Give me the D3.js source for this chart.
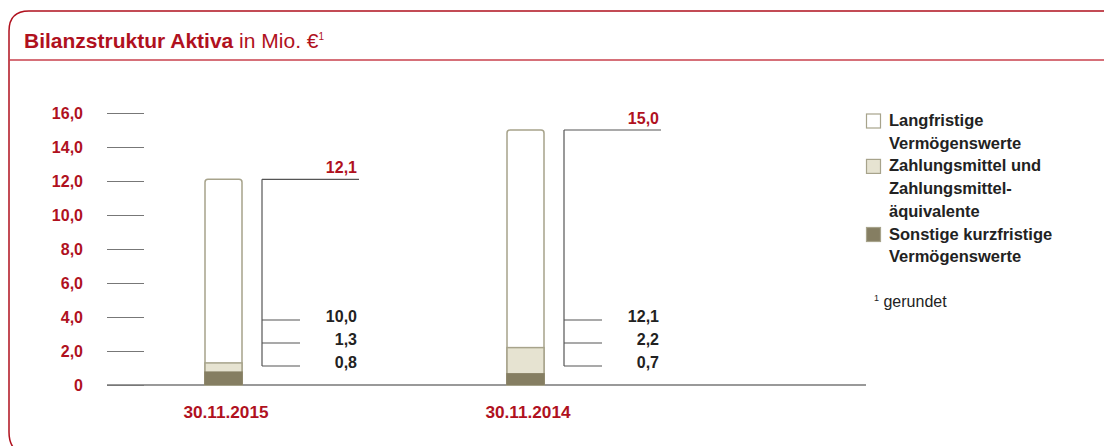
<!DOCTYPE html>
<html>
<head>
<meta charset="utf-8">
<script src="https://cdn.jsdelivr.net/npm/d3@7"></script>
<style>
  body { margin: 0; background: #fff; }
  svg { display: block; font-family: "Liberation Sans", Arial, sans-serif; }
</style>
</head>
<body>
<svg id="chart"></svg>
<script>
const width = 1104;
const height = 446;
const red = '#b0111e';
const textDark = '#222';

// data
const dates = ['30.11.2015', '30.11.2014'];
const totals = [12.1, 15.0];
const langfristig = [10.0, 12.1];
const zahlungsmittel = [1.3, 2.2];
const sonstige = [0.8, 0.7];
const yTicks = [0, 2, 4, 6, 8, 10, 12, 14, 16];
const legendItems = [
    {lines: ['Langfristige', 'Vermögenswerte'], fill: '#fff'},
    {lines: ['Zahlungsmittel und', 'Zahlungsmittel-', 'äquivalente'], fill: '#e6e3d1'},
    {lines: ['Sonstige kurzfristige', 'Vermögenswerte'], fill: '#857e62'}
];

const fmt = v => v === 0 ? '0' : d3.format('.1f')(v).replace('.', ',');

const svg = d3.select('#chart')
    .attr('width', width)
    .attr('height', height);

// frame
svg.append('path')
    .attr('d', `M${width + 5},11 L29,11 Q9,11 9,31 L9,432 Q9,446 18,452`)
    .attr('fill', 'none')
    .attr('stroke', red)
    .attr('stroke-width', 1.5);
svg.append('line')
    .attr('x1', 9).attr('x2', width)
    .attr('y1', 60).attr('y2', 60)
    .attr('stroke', '#c8404c')
    .attr('stroke-width', 1.5);

const title = svg.append('text')
    .attr('x', 24).attr('y', 48)
    .attr('fill', red)
    .style('font-size', '21px');
title.append('tspan').attr('font-weight', 'bold').text('Bilanzstruktur Aktiva');
title.append('tspan').text(' in Mio. €');
title.append('tspan').attr('dy', -8).style('font-size', '10px').text('1');

// scales
const y = d3.scaleLinear().domain([0, 16]).range([385, 113]);
const x = d3.scalePoint().domain(dates).range([223.5, 525.5]);
const barW = 37;

// y axis
const yAxis = svg.append('g')
    .attr('transform', 'translate(107,0)')
    .call(d3.axisLeft(y).tickValues(yTicks).tickSize(-37).tickPadding(24).tickFormat(fmt));
yAxis.select('.domain').remove();
yAxis.selectAll('.tick line').attr('stroke', '#777').attr('stroke-width', 1.2);
yAxis.selectAll('.tick text')
    .attr('fill', red)
    .attr('font-weight', 'bold')
    .style('font-size', '16px')
    .style('font-family', '"Liberation Sans", Arial, sans-serif');

// baseline
svg.append('line')
    .attr('x1', 107).attr('x2', 866)
    .attr('y1', y(0)).attr('y2', y(0))
    .attr('stroke', '#777').attr('stroke-width', 1.5);

dates.forEach((d, i) => {
    const bx = x(d) - barW / 2;
    const g = svg.append('g');

    // outer bar (total)
    g.append('path')
        .attr('d', () => {
            const t = y(totals[i]), b = y(0), r = 3;
            return `M${bx},${b} L${bx},${t + r} Q${bx},${t} ${bx + r},${t} L${bx + barW - r},${t} Q${bx + barW},${t} ${bx + barW},${t + r} L${bx + barW},${b} Z`;
        })
        .attr('fill', '#fff')
        .attr('stroke', '#a7a38b')
        .attr('stroke-width', 1.5);
    g.append('rect')
        .attr('x', bx).attr('width', barW)
        .attr('y', y(zahlungsmittel[i])).attr('height', y(0) - y(zahlungsmittel[i]))
        .attr('fill', legendItems[1].fill)
        .attr('stroke', '#a7a38b').attr('stroke-width', 1.5);
    g.append('rect')
        .attr('x', bx - 0.75).attr('width', barW + 1.5)
        .attr('y', y(sonstige[i])).attr('height', y(0) - y(sonstige[i]))
        .attr('fill', legendItems[2].fill);

    // bracket
    const lx = bx + barW + 20;
    const labelYs = [320, 343, 366];
    const vals = [langfristig[i], zahlungsmittel[i], sonstige[i]];
    g.append('line')
        .attr('x1', lx).attr('x2', lx)
        .attr('y1', y(totals[i])).attr('y2', labelYs[2])
        .attr('stroke', '#555').attr('stroke-width', 1.2);
    g.append('line')
        .attr('x1', lx).attr('x2', lx + 97)
        .attr('y1', y(totals[i])).attr('y2', y(totals[i]))
        .attr('stroke', '#555').attr('stroke-width', 1.2);
    g.append('text')
        .attr('x', lx + 95).attr('y', y(totals[i]) - 6)
        .attr('text-anchor', 'end')
        .attr('fill', red).attr('font-weight', 'bold')
        .style('font-size', '16px')
        .text(fmt(totals[i]));
    vals.forEach((v, k) => {
        g.append('line')
            .attr('x1', lx).attr('x2', lx + 38)
            .attr('y1', labelYs[k]).attr('y2', labelYs[k])
            .attr('stroke', '#555').attr('stroke-width', 1.2);
        g.append('text')
            .attr('x', lx + 95).attr('y', labelYs[k] + 1.5)
            .attr('text-anchor', 'end')
            .attr('fill', textDark).attr('font-weight', 'bold')
            .style('font-size', '16px')
            .text(fmt(v));
    });

    // date label
    svg.append('text')
        .attr('x', x(d) + 2.5).attr('y', 418)
        .attr('text-anchor', 'middle')
        .attr('fill', red).attr('font-weight', 'bold')
        .style('font-size', '16.5px')
        .attr('textLength', 85)
        .attr('lengthAdjust', 'spacingAndGlyphs')
        .text(d);
});

// legend
let ly = 126;
const lineH = 22.7;
legendItems.forEach(item => {
    svg.append('rect')
        .attr('x', 866.5).attr('y', ly - 12)
        .attr('width', 14).attr('height', 14)
        .attr('fill', item.fill)
        .attr('stroke', '#a7a38b').attr('stroke-width', 1.2);
    item.lines.forEach(line => {
        svg.append('text')
            .attr('x', 889).attr('y', ly)
            .attr('fill', textDark).attr('font-weight', 'bold')
            .style('font-size', '16.5px')
            .text(line);
        ly += lineH;
    });
});

const note = svg.append('text')
    .attr('x', 874).attr('y', 307)
    .attr('fill', textDark)
    .style('font-size', '16px');
note.append('tspan').style('font-size', '9px').attr('dy', -6).text('1');
note.append('tspan').attr('dy', 6).text(' gerundet');
</script>
</body>
</html>
